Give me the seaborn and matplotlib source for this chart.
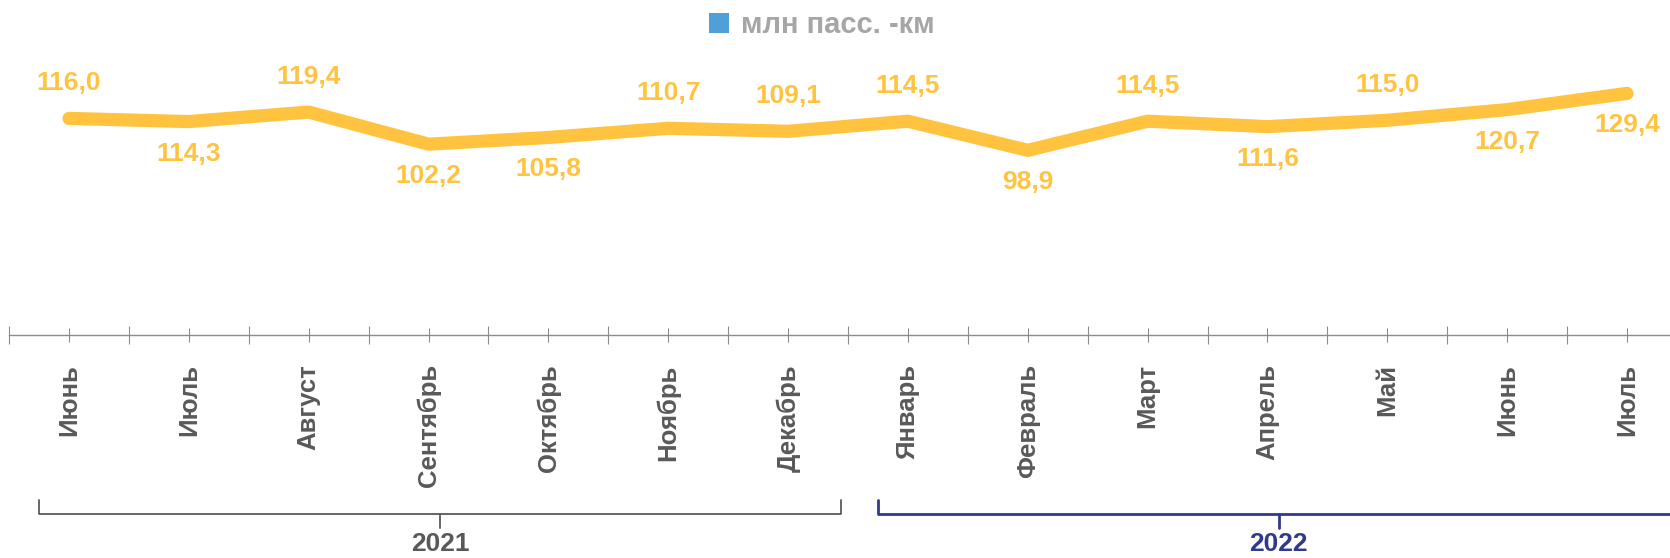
import numpy as np
import pandas as pd
import seaborn as sns
import matplotlib
matplotlib.use("Agg")
import matplotlib.pyplot as plt
from matplotlib.patches import Patch
from matplotlib.transforms import blended_transform_factory

# ---- data ----
months = ["Июнь", "Июль", "Август", "Сентябрь", "Октябрь", "Ноябрь", "Декабрь",
          "Январь", "Февраль", "Март", "Апрель", "Май", "Июнь", "Июль"]
values = [116.0, 114.3, 119.4, 102.2, 105.8, 110.7, 109.1,
          114.5, 98.9, 114.5, 111.6, 115.0, 120.7, 129.4]
label_side = ["above", "below", "above", "below", "below", "above", "above",
              "above", "below", "above", "below", "above", "below", "below"]
years = ["2021", "2022"]
year_counts = [7, 7]
series_name = "млн пасс. -км"

# ---- style ----
sns.set_theme(style="white")
plt.rcParams["font.family"] = ["Liberation Sans", "DejaVu Sans"]
plt.rcParams["font.weight"] = "bold"

LINE = "#FFC340"
TICK_TXT = "#595959"
AXIS = "#8C8C8C"
NAVY = "#2E3A8A"

fig = plt.figure(figsize=(16.7, 5.58), dpi=100)
ax = fig.add_axes([0.00545, 0.3996, 1.0047, 0.502])

df = pd.DataFrame({"idx": np.arange(len(months)), "val": values})
sns.lineplot(data=df, x="idx", y="val", ax=ax, color=LINE, linewidth=9.5,
             solid_capstyle="round", solid_joinstyle="round")

ax.set_xlim(-0.5, len(months) - 0.5)
ax.set_ylim(0, 150)
ax.set_xlabel("")
ax.set_ylabel("")
ax.set_yticks([])
for s in ["top", "left", "right"]:
    ax.spines[s].set_visible(False)
ax.spines["bottom"].set_color(AXIS)
ax.spines["bottom"].set_linewidth(1.0)

ax.set_xticks(np.arange(len(months)))
ax.set_xticklabels(months, rotation=90, fontsize=18.5, fontweight="bold", color=TICK_TXT)
ax.set_xticks(np.arange(len(months) + 1) - 0.5, minor=True)
ax.tick_params(axis="x", which="major", direction="inout", length=10, width=0.8,
               color=AXIS, pad=16, bottom=True)
ax.tick_params(axis="x", which="minor", direction="inout", length=13, width=0.8,
               color=AXIS, bottom=True)

# data labels
for i, (v, side) in enumerate(zip(values, label_side)):
    dy = 35 if side == "above" else -32
    ax.annotate(f"{v:.1f}".replace(".", ","), (i, v), xytext=(0, dy),
                textcoords="offset pixels", ha="center", va="center",
                fontsize=19, fontweight="bold", color=LINE, annotation_clip=False)

# year brackets
tr = blended_transform_factory(ax.transData, fig.transFigure)
y_h = 1 - 514 / 558
y_top = 1 - 500 / 558
y_tip = 1 - 528 / 558
y_lab = 1 - 544 / 558
start = 0
for yr, cnt, col, lw, fam in zip(years, year_counts, [TICK_TXT, NAVY], [1.3, 2.0],
                                 [["Liberation Sans", "DejaVu Sans"],
                                  ["Liberation Sans Narrow", "Liberation Sans", "DejaVu Sans"]]):
    x0 = start - 0.25
    x1 = start + cnt - 1 + 0.44
    xc = (x0 + x1) / 2
    ax.plot([x0, x0, x1, x1], [y_top, y_h, y_h, y_top], transform=tr, color=col,
            lw=lw, clip_on=False, solid_joinstyle="round")
    ax.plot([xc, xc], [y_h, y_tip], transform=tr, color=col, lw=lw, clip_on=False)
    ax.text(xc, y_lab, yr, transform=tr, ha="center", va="center", fontsize=19,
            fontweight="bold", color=col, family=fam)
    start += cnt

# legend
leg = fig.legend(handles=[Patch(facecolor="#4F9FD8", edgecolor="none")],
                 labels=[series_name], loc="center", bbox_to_anchor=(0.492, 0.955),
                 frameon=False, handlelength=0.7, handleheight=0.7, handletextpad=0.4,
                 prop={"size": 21, "weight": "bold"})
for t in leg.get_texts():
    t.set_color("#A6A6A6")

fig.savefig("out.png", dpi=100)
